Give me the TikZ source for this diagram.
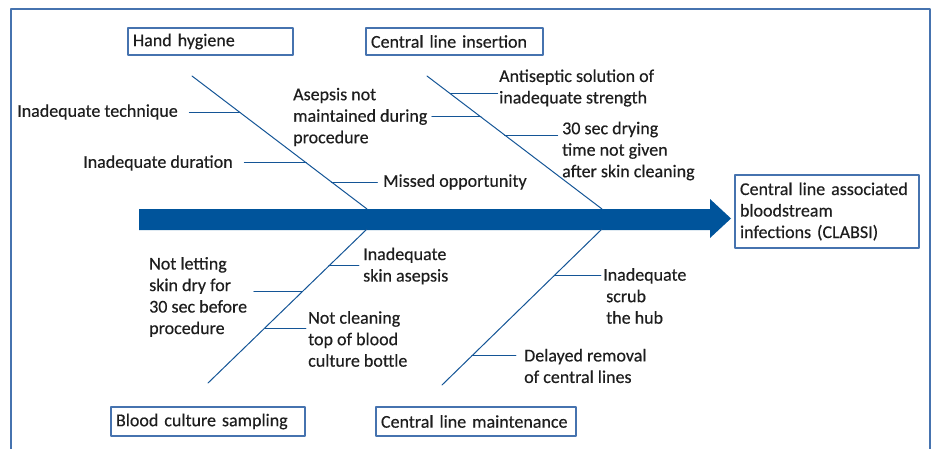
\documentclass[tikz,border=0pt]{standalone}
\usepackage{fontspec}
\setmainfont{Carlito}[FakeBold=0.4]
\usepackage{tikz}
\usetikzlibrary{positioning}

\definecolor{bonecol}{RGB}{20,85,150}
\definecolor{spinecol}{RGB}{0,84,155}
\definecolor{framecol}{RGB}{70,115,175}
\definecolor{txtcol}{RGB}{30,30,30}

\begin{document}
\begin{tikzpicture}[x=1pt,y=-1pt,line cap=round,line join=round,
  lbl/.style={anchor=west,align=left,inner sep=0pt,text=txtcol,
    font=\fontsize{18}{21.5}\selectfont},
  catbox/.style={draw=framecol,line width=1.2pt,minimum height=27pt,
    inner xsep=5pt,align=left,text=txtcol,font=\fontsize{18}{21.5}\selectfont},
  bone/.style={draw=bonecol,line width=1pt},
  rib/.style={draw=bonecol,line width=1pt}]
\path[use as bounding box] (0,0) rectangle (935,448);
\draw[draw=framecol,line width=1.5pt] (11,452) -- (11,9) -- (930,9) -- (930,452);
% spine
\fill[spinecol] (139,209) -- (710,209) -- (710,199) -- (731,218.5) -- (710,238)
  -- (710,230) -- (139,230) -- cycle;
% category boxes
\node[catbox,text width=155pt] (hand) at (210.5,41.5) {Hand hygiene};
\node[catbox,text width=167pt] (insert) at (454.5,41.5) {Central line insertion};
\node[catbox,text width=184pt,minimum height=29pt] (blood) at (208,421.5) {Blood culture sampling};
\node[catbox,text width=190pt,minimum height=29pt] (maint) at (476,421.5) {Central line maintenance};
\node[catbox,text width=174pt,minimum height=73pt] (clabsi) at (827,211.5)
  {Central line associated\\bloodstream\\infections (CLABSI)};
% bones
\coordinate (hhA) at (192,76);  \coordinate (hhB) at (367,209);
\coordinate (ciA) at (427,76);  \coordinate (ciB) at (602,209);
\coordinate (bcA) at (208,383); \coordinate (bcB) at (367,229);
\coordinate (cmA) at (442,385); \coordinate (cmB) at (602,229);
\draw[bone] (hhA) -- (hhB);
\draw[bone] (ciA) -- (ciB);
\draw[bone] (bcB) -- (bcA);
\draw[bone] (cmB) -- (cmA);
% points on the bones
\path (hhA) -- (hhB) coordinate[pos=.271] (hh1) coordinate[pos=.654] (hh2)
  coordinate[pos=.797] (hh3);
\path (ciA) -- (ciB) coordinate[pos=.135] (ci1) coordinate[pos=.308] (ci2)
  coordinate[pos=.444] (ci3);
\path (bcB) -- (bcA) coordinate[pos=.240] (bc1) coordinate[pos=.409] (bc2)
  coordinate[pos=.643] (bc3);
\path (cmB) -- (cmA) coordinate[pos=.295] (cm1) coordinate[pos=.814] (cm2);
% ribs
\draw[rib] (hh1) -- ++(-50,0) coordinate (hh1e);
\draw[rib] (hh2) -- ++(-62,0) coordinate (hh2e);
\draw[rib] (hh3) -- ++(46,0) coordinate (hh3e);
\draw[rib] (ci1) -- ++(47,0) coordinate (ci1e);
\draw[rib] (ci2) -- ++(-49,0) coordinate (ci2e);
\draw[rib] (ci3) -- ++(53,0) coordinate (ci3e);
\draw[rib] (bc1) -- ++(30,0) coordinate (bc1e);
\draw[rib] (bc2) -- ++(-48,0) coordinate (bc2e);
\draw[rib] (bc3) -- ++(41,0) coordinate (bc3e);
\draw[rib] (cm1) -- ++(46,0) coordinate (cm1e);
\draw[rib] (cm2) -- ++(44,0) coordinate (cm2e);
% causes
\node[lbl] (tech) at (17,112) {Inadequate technique};
\node[lbl] (dur) at (83,163) {Inadequate duration};
\node[lbl] (missed) at (383,182) {Missed opportunity};
\node[lbl] (asep) at (293,117) {Asepsis not\\maintained during\\procedure};
\node[lbl] (antis) at (499,88) {Antiseptic solution of\\inadequate strength};
\node[lbl] (dry) at (562,151) {30 sec drying\\time not given\\after skin cleaning};
\node[lbl] (skin) at (363,266) {Inadequate\\skin asepsis};
\node[lbl] (notlet) at (149,297) {Not letting\\skin dry for\\30 sec before\\procedure};
\node[lbl] (notclean) at (308,339) {Not cleaning\\top of blood\\culture bottle};
\node[lbl] (scrub) at (603,296) {Inadequate\\\hspace{3pt}scrub\\\hspace{3pt}the hub};
\node[lbl] (delay) at (524,366) {Delayed removal\\of central lines};
\end{tikzpicture}
\end{document}
